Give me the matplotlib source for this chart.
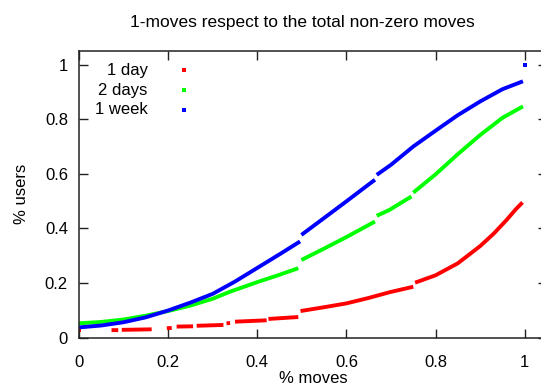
import numpy as np
import matplotlib.pyplot as plt

plt.rcParams['font.family'] = ['Liberation Sans', 'DejaVu Sans']

nan = np.nan

# fraction of moves (x) vs fraction of users (y); NaN breaks the gaps in the data
day_x = [0.0, nan, 0.073, 0.088, nan, 0.096, 0.130, 0.163, nan, 0.197, 0.208, nan,
         0.219, 0.256, nan, 0.264, 0.324, nan, 0.331, 0.339, nan, 0.350, 0.421, nan,
         0.425, 0.492, nan, 0.497, 0.55, 0.60, 0.65, 0.697, 0.75, nan,
         0.754, 0.80, 0.85, 0.90, 0.93, 0.96, 0.98, 0.995]
day_y = [0.027, nan, 0.027, 0.027, nan, 0.028, 0.029, 0.030, nan, 0.034, 0.035, nan,
         0.040, 0.041, nan, 0.043, 0.046, nan, 0.052, 0.053, nan, 0.058, 0.063, nan,
         0.068, 0.075, nan, 0.097, 0.111, 0.125, 0.145, 0.166, 0.186, nan,
         0.201, 0.228, 0.272, 0.335, 0.380, 0.432, 0.470, 0.495]

days2_x = [0.0, 0.05, 0.10, 0.15, 0.20, 0.25, 0.30, 0.339, 0.40, 0.45, 0.492, nan,
           0.499, 0.55, 0.60, 0.664, nan, 0.668, 0.697, 0.746, nan,
           0.750, 0.80, 0.85, 0.90, 0.95, 0.996]
days2_y = [0.052, 0.057, 0.066, 0.080, 0.097, 0.117, 0.142, 0.168, 0.203, 0.230, 0.254, nan,
           0.284, 0.326, 0.368, 0.425, nan, 0.446, 0.468, 0.517, nan,
           0.531, 0.598, 0.672, 0.742, 0.805, 0.847]

week_x = [0.0, 0.05, 0.10, 0.15, 0.20, 0.25, 0.30, 0.35, 0.40, 0.45, 0.496, nan,
          0.499, 0.55, 0.60, 0.65, 0.664, nan,
          0.668, 0.70, 0.75, 0.80, 0.85, 0.90, 0.95, 0.996, nan, 1.0]
week_y = [0.037, 0.044, 0.056, 0.074, 0.099, 0.128, 0.160, 0.205, 0.255, 0.305, 0.352, nan,
          0.376, 0.438, 0.499, 0.561, 0.578, nan,
          0.596, 0.633, 0.700, 0.758, 0.815, 0.865, 0.910, 0.939, nan, 1.0]

labels = ['1 day', '2 days', '1 week']
colors = ['#ff0000', '#00ff00', '#0000ff']


def lone_points(ys):
    # indices of points with no neighbour on either side (drawn as dots)
    out = []
    for i, v in enumerate(ys):
        left = i == 0 or np.isnan(ys[i - 1])
        right = i == len(ys) - 1 or np.isnan(ys[i + 1])
        if not np.isnan(v) and left and right:
            out.append(i)
    return out


fig = plt.figure(figsize=(5.41, 3.85), dpi=100)
ax = fig.add_axes([79 / 541, 1 - 337.5 / 385, 468 / 541, 286.5 / 385])

for xs, ys, c in zip([day_x, days2_x, week_x], [day_y, days2_y, week_y], colors):
    ax.plot(xs, ys, '-', color=c, lw=2.8, solid_capstyle='butt',
            marker='s', ms=2.6, mew=0, markevery=lone_points(ys))

ax.set_xlim(0, 1.05)
ax.set_ylim(0, 1.05)
ax.set_xticks([0, 0.2, 0.4, 0.6, 0.8, 1])
ax.set_xticklabels(['0', '0.2', '0.4', '0.6', '0.8', '1'])
ax.set_yticks([0, 0.2, 0.4, 0.6, 0.8, 1])
ax.set_yticklabels(['0', '0.2', '0.4', '0.6', '0.8', '1'])
ax.tick_params(direction='in', length=6.5, width=1, top=True, right=True,
               labelsize=12, colors='#222222', labelcolor='black')
ax.tick_params(axis='x', pad=12.5)
ax.tick_params(axis='y', pad=8)
for s in ax.spines.values():
    s.set_linewidth(1.1)
    s.set_color('#222222')

ax.set_xlabel('% moves', fontsize=12, labelpad=1)
ax.set_ylabel('% users', fontsize=12, labelpad=11)
fig.text(302 / 541, 1 - 22 / 385, '1-moves respect to the total non-zero moves',
         ha='center', va='center', fontsize=12.5)

# key, text right-aligned with the point sample after it
for i, (lab, c) in enumerate(zip(labels, colors)):
    yk = (337.5 - (70 + 20 * i)) / 286.5
    ax.text(0.147, yk, lab, transform=ax.transAxes, ha='right', va='center',
            fontsize=12)
    ax.plot([0.224], [yk], 's', color=c, ms=2.6, mew=0, transform=ax.transAxes)

fig.savefig('out.png', dpi=100)
